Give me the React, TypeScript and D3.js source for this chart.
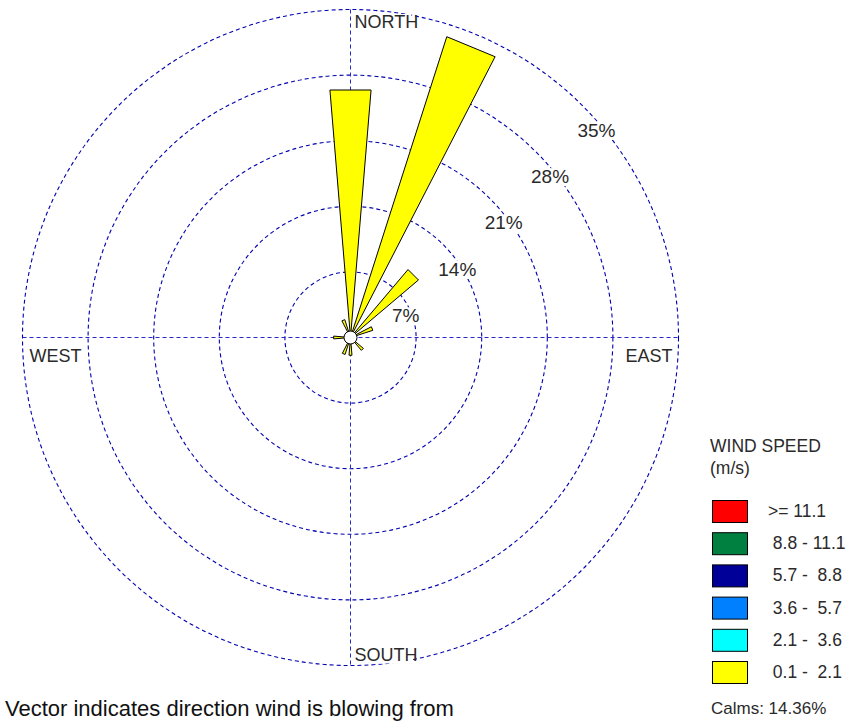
import React from "react";
import * as d3 from "d3";

const directions = ["N","NNE","NE","ENE","E","ESE","SE","SSE","S","SSW","SW","WSW","W","WNW","NW","NNW"];
// frequency (%) per direction for the 0.1 - 2.1 m/s class
const freqClass1 = [26.5, 33.7, 9.5, 2.5, 0, 0, 1.8, 0, 1.9, 1.9, 0, 0, 1.8, 0, 0, 2.0];
const ringValues = [7, 14, 21, 28, 35];
const ringLabels = ["7%", "14%", "21%", "28%", "35%"];
const speedLabels = [">= 11.1", " 8.8 - 11.1", " 5.7 -  8.8", " 3.6 -  5.7", " 2.1 -  3.6", " 0.1 -  2.1"];
const speedColors = ["#FF0000", "#008040", "#000099", "#0080FF", "#00FFFF", "#FFFF00"];
const calmsText = "Calms: 14.36%";
const compass = ["NORTH", "EAST", "SOUTH", "WEST"];

const W = 848, H = 721;
const cx = 350.5, cy = 337.5, R = 328;
const FONT = "'Liberation Sans', Arial, sans-serif";

function LabelBg({ x, y, text, size, anchor = "start" }: { x: number; y: number; text: string; size: number; anchor?: string }) {
  const w = text.length * size * 0.62;
  const bx = anchor === "end" ? x - w : x;
  return (
    <g>
      <rect x={bx - 1} y={y - size * 0.78} width={w + 2} height={size * 0.95} fill="#fff" />
      <text x={x} y={y} fontSize={size} fontFamily={FONT} fill="#2a2a2a" textAnchor={anchor as any}>{text}</text>
    </g>
  );
}

export default function App() {
  const r = d3.scaleLinear().domain([0, 35]).range([0, R]);
  const angle = d3.scaleLinear().domain([0, directions.length]).range([0, 2 * Math.PI]);
  const half = (9.5 / 2) * Math.PI / 180;
  const pt = (a: number, rad: number) => [cx + rad * Math.sin(a), cy - rad * Math.cos(a)];

  const petals = directions.map((d, i) => {
    const v = freqClass1[i];
    if (v <= 0) return null;
    const a = angle(i);
    const len = r(v);
    const p1 = pt(a - half, len);
    const p2 = pt(a + half, len);
    const path = d3.path();
    path.moveTo(cx, cy);
    path.lineTo(p1[0], p1[1]);
    path.lineTo(p2[0], p2[1]);
    path.closePath();
    return <path key={d} d={path.toString()} fill={speedColors[5]} stroke="#000" strokeWidth={1} strokeLinejoin="round" />;
  });

  const dash = "4,3";
  const gridColor = "#0000B0";
  const axisColor = "#2828C8";

  return (
    <svg width={W} height={H} style={{ position: "absolute", left: 0, top: 0, background: "#fff" }}>
      <rect width={W} height={H} fill="#fff" />
      {ringValues.map((v) => (
        <circle key={v} cx={cx} cy={cy} r={r(v)} fill="none" stroke={gridColor} strokeWidth={1.1} strokeDasharray={dash} />
      ))}
      <line x1={cx - R} y1={cy} x2={cx + R} y2={cy} stroke={axisColor} strokeDasharray={dash} />
      <line x1={cx} y1={cy - R} x2={cx} y2={cy + R} stroke={axisColor} strokeDasharray={dash} />

      {ringValues.map((v, i) => {
        const p = pt(Math.PI / 4, r(v));
        return <LabelBg key={v} x={p[0] - 5} y={p[1] + 31} text={ringLabels[i]} size={19} />;
      })}

      <LabelBg x={cx + 4} y={cy - R + 18.5} text={compass[0]} size={18} />
      <LabelBg x={cx + R - 6} y={cy + 24} text={compass[1]} size={18} anchor="end" />
      <LabelBg x={cx + 4} y={cy + R - 5} text={compass[2]} size={18} />
      <LabelBg x={cx - R + 7} y={cy + 24} text={compass[3]} size={18} />

      {petals}
      <circle cx={cx} cy={cy} r={6.5} fill="#fff" stroke="#000" strokeWidth={1} />

      <text x={710} y={452} fontSize={17.5} fontFamily={FONT} fill="#2a2a2a">WIND SPEED</text>
      <text x={710} y={474} fontSize={17.5} fontFamily={FONT} fill="#2a2a2a">(m/s)</text>
      {speedLabels.map((s, i) => (
        <g key={s}>
          <rect x={712.5} y={500.5 + i * 32.2} width={35} height={22} fill={speedColors[i]} stroke="#000" strokeWidth={1} />
          <text x={768} y={517 + i * 32.2} fontSize={17.5} fontFamily={FONT} fill="#2a2a2a" style={{ whiteSpace: "pre" }}>{s}</text>
        </g>
      ))}
      <text x={711} y={714} fontSize={17} fontFamily={FONT} fill="#2a2a2a">{calmsText}</text>
      <text x={5} y={716} fontSize={22} fontFamily={FONT} fill="#111">Vector indicates direction wind is blowing from</text>
    </svg>
  );
}
